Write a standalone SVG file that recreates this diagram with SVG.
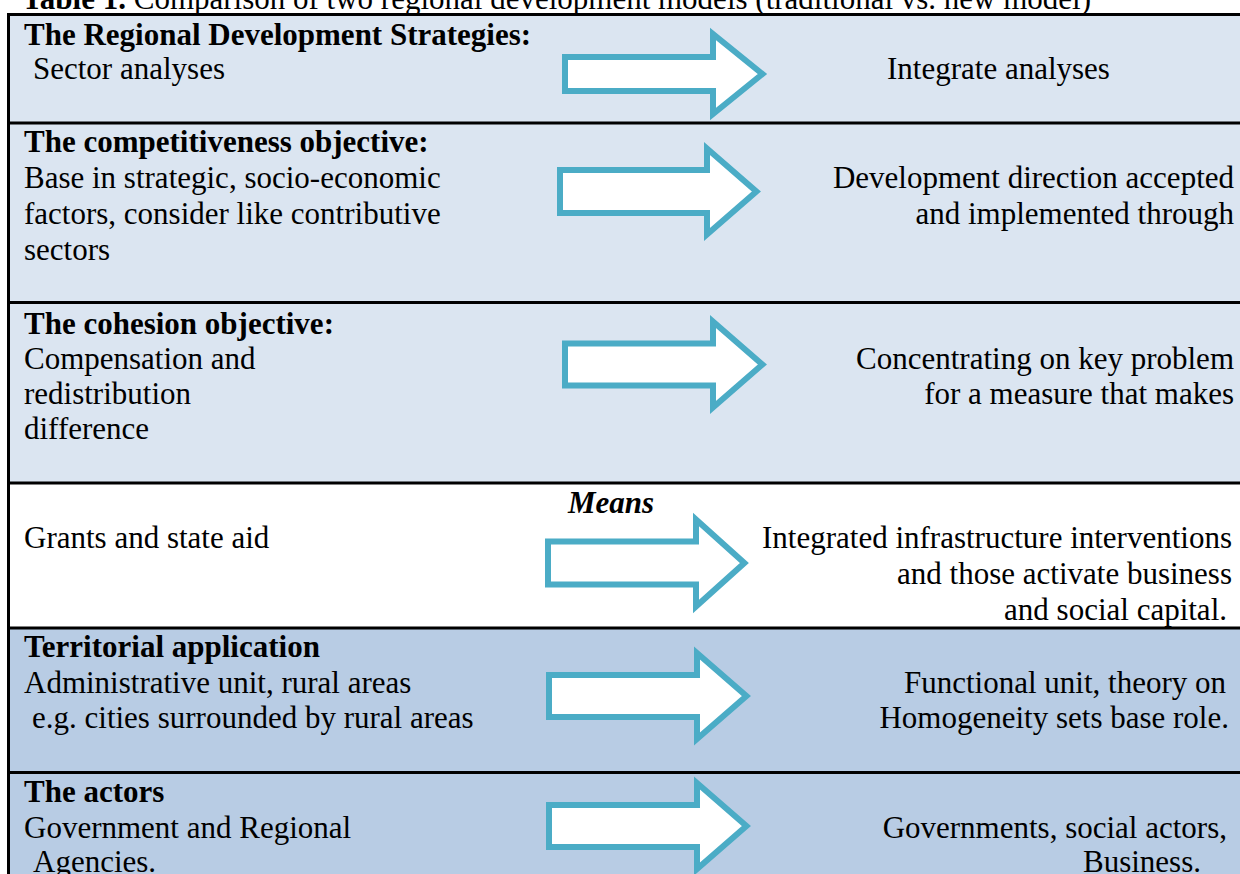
<svg xmlns="http://www.w3.org/2000/svg" width="1240" height="874" viewBox="0 0 1240 874">
  <style>
    text { font-family: "Liberation Serif", "Times New Roman", serif; font-size: 31px; fill: #000; }
    .b { font-weight: bold; }
    .bi { font-weight: bold; font-style: italic; }
    .r { text-anchor: end; }
    .light { fill: #DBE5F1; }
    .dark { fill: #B8CCE4; }
    .white { fill: #FFFFFF; }
    .sep { stroke: #000; stroke-width: 3; fill: none; }
    .arrow { fill: #FFFFFF; stroke: #4BACC6; stroke-width: 6; stroke-linejoin: miter; }
  </style>
  <rect x="0" y="0" width="1240" height="874" fill="#FFFFFF"/>

  <g id="title">
    <text x="22" y="9"><tspan class="b">Table 1.</tspan> Comparison of two regional development models (traditional vs. new model)</text>
  </g>

  <g id="row-strategies">
    <rect class="light" x="8" y="14" width="1240" height="109"/>
    <text class="b" x="24" y="45">The Regional Development Strategies:</text>
    <text x="33" y="79">Sector analyses</text>
    <text x="887" y="79">Integrate analyses</text>
  </g>

  <g id="row-competitiveness">
    <rect class="light" x="8" y="123" width="1240" height="180"/>
    <text class="b" x="24" y="152">The competitiveness objective:</text>
    <text x="24" y="188">Base in strategic, socio-economic</text>
    <text x="24" y="224">factors, consider like contributive</text>
    <text x="24" y="260">sectors</text>
    <text class="r" x="1234" y="188">Development direction accepted</text>
    <text class="r" x="1234" y="224">and implemented through</text>
  </g>

  <g id="row-cohesion">
    <rect class="light" x="8" y="303" width="1240" height="180"/>
    <text class="b" x="24" y="334">The cohesion objective:</text>
    <text x="24" y="369">Compensation and</text>
    <text x="24" y="404">redistribution</text>
    <text x="24" y="439">difference</text>
    <text class="r" x="1234" y="369">Concentrating on key problem</text>
    <text class="r" x="1234" y="404">for a measure that makes</text>
  </g>

  <g id="row-means">
    <rect class="white" x="8" y="483" width="1240" height="145"/>
    <text class="bi" x="568" y="513">Means</text>
    <text x="24" y="548">Grants and state aid</text>
    <text class="r" x="1232" y="548">Integrated infrastructure interventions</text>
    <text class="r" x="1232" y="584">and those activate business</text>
    <text class="r" x="1227" y="620">and social capital.</text>
  </g>

  <g id="row-territorial">
    <rect class="dark" x="8" y="628" width="1240" height="145"/>
    <text class="b" x="24" y="657">Territorial application</text>
    <text x="24" y="693">Administrative unit, rural areas</text>
    <text x="32" y="728">e.g. cities surrounded by rural areas</text>
    <text class="r" x="1226" y="693">Functional unit, theory on</text>
    <text class="r" x="1229" y="728">Homogeneity sets base role.</text>
  </g>

  <g id="row-actors">
    <rect class="dark" x="8" y="773" width="1240" height="110"/>
    <text class="b" x="24" y="802">The actors</text>
    <text x="24" y="838">Government and Regional</text>
    <text x="33" y="872">Agencies.</text>
    <text class="r" x="1227" y="838">Governments, social actors,</text>
    <text class="r" x="1201" y="872">Business.</text>
  </g>

  <g id="table-lines">
    <line class="sep" x1="8.5" y1="14" x2="8.5" y2="880"/>
    <line class="sep" x1="7" y1="14.5" x2="1245" y2="14.5"/>
    <line class="sep" x1="7" y1="123" x2="1245" y2="123"/>
    <line class="sep" x1="7" y1="302.5" x2="1245" y2="302.5"/>
    <line class="sep" x1="7" y1="483" x2="1245" y2="483"/>
    <line class="sep" x1="7" y1="628" x2="1245" y2="628"/>
    <line class="sep" x1="7" y1="772.5" x2="1245" y2="772.5"/>
  </g>

  <g id="connectors">
    <polygon class="arrow" points="565,57 713,57 713,34 762.4,74 713,114 713,91 565,91"/>
    <polygon class="arrow" points="560,170 707,170 707,148.5 756.4,191.5 707,234.5 707,213 560,213"/>
    <polygon class="arrow" points="565,343.5 713,343.5 713,321.5 762.4,364.5 713,407.5 713,385.5 565,385.5"/>
    <polygon class="arrow" points="548,541.5 696,541.5 696,519.5 744.4,563 696,606.5 696,584.5 548,584.5"/>
    <polygon class="arrow" points="549,675 697,675 697,653 746.4,696 697,739 697,717 549,717"/>
    <polygon class="arrow" points="549,805 697,805 697,783 746.4,826 697,869 697,847 549,847"/>
  </g>
</svg>
